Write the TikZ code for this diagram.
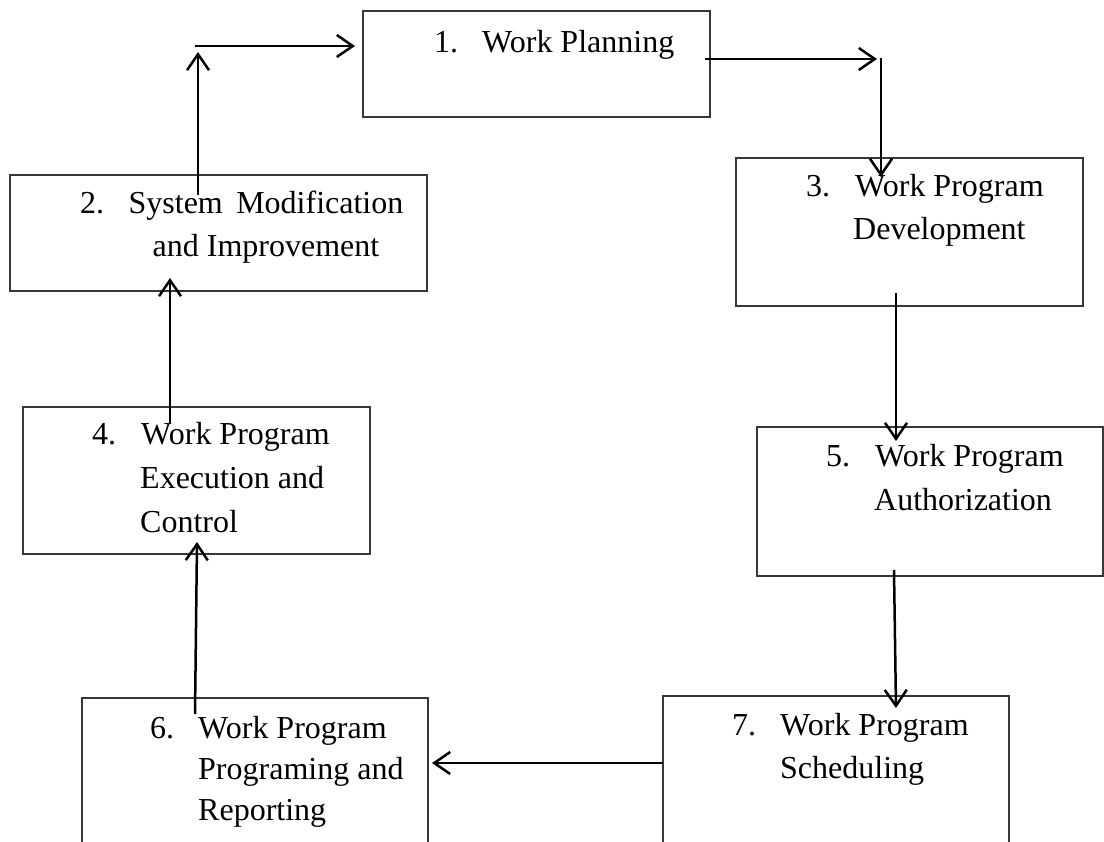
\documentclass[tikz,border=0pt]{standalone}
\usepackage{fontspec}
\setmainfont{Liberation Serif}
\usetikzlibrary{arrows.meta}

\begin{document}
\begin{tikzpicture}[x=1pt, y=-1pt,
  box/.style={draw=black!78, line width=1.3pt, rectangle, inner sep=0pt},
  lbl/.style={inner sep=0pt, anchor=base west, font=\fontsize{32}{43}\selectfont},
  clbl/.style={lbl, anchor=base},
  arr/.style={line width=2.5pt, -{Straight Barb[length=16pt, width=22pt, line width=2.5pt]}}
]
\useasboundingbox (0,0) rectangle (1104,842);
\clip (0,0) rectangle (1104,842);
\fill[white] (0,0) rectangle (1104,842);

% ---- boxes ----
\node[box, minimum width=347pt, minimum height=106pt] (b1) at (536.5,64) {};
\node[box, minimum width=417pt, minimum height=116pt] (b2) at (218.5,233) {};
\node[box, minimum width=347pt, minimum height=148pt] (b3) at (909.5,232) {};
\node[box, minimum width=347pt, minimum height=147pt] (b4) at (196.5,480.5) {};
\node[box, minimum width=346pt, minimum height=149pt] (b5) at (930,501.5) {};
\node[box, minimum width=346pt, minimum height=170pt] (b6) at (255,783) {};
\node[box, minimum width=346pt, minimum height=170pt] (b7) at (836,781) {};

% ---- labels ----
\node[lbl] (n1) at (434,53) {1.};
\node[lbl] (t1) at (482,53) {Work Planning};

\node[lbl] (n2) at (80,214) {2.};
\node[clbl] (t2a) at (266,214) {System\hspace{0.42em}Modification};
\node[clbl] (t2b) at (266,257) {and Improvement};

\node[lbl] (n3) at (806,197) {3.};
\node[lbl] (t3a) at (855,197) {Work Program};
\node[lbl] (t3b) at (853,240) {Development};

\node[lbl] (n4) at (92,445) {4.};
\node[lbl] (t4a) at (141,445) {Work Program};
\node[lbl] (t4b) at (140,489) {Execution and};
\node[lbl] (t4c) at (140,532) {Control};

\node[lbl] (n5) at (826,467) {5.};
\node[lbl] (t5a) at (875,467) {Work Program};
\node[lbl] (t5b) at (874,511) {Authorization};

\node[lbl] (n6) at (150,738) {6.};
\node[lbl] (t6a) at (198,738) {Work Program};
\node[lbl] (t6b) at (198,779) {Programing and};
\node[lbl] (t6c) at (198,820) {Reporting};

\node[lbl] (n7) at (732,735) {7.};
\node[lbl] (t7a) at (780,735) {Work Program};
\node[lbl] (t7b) at (780,778) {Scheduling};

% ---- connector end points ----
\coordinate (p2s) at (198,195);
\coordinate (p2e) at (198,52);
\coordinate (p1s) at (195,46);
\coordinate (p1e) at (355,46);
\coordinate (q1s) at (705,59);
\coordinate (q1c) at (881,59);
\coordinate (q3e) at (881,177);
\coordinate (p3s) at (896,293);
\coordinate (p5e) at (896,441);
\coordinate (p5s) at (894,570);
\coordinate (p7e) at (896,708);
\coordinate (p7s) at (663,763);
\coordinate (p6e) at (432,763);
\coordinate (p6s) at (195,714);
\coordinate (p4e) at (197,542);
\coordinate (p4s) at (170,424);
\coordinate (p2b) at (170,278);

% ---- connectors ----
\draw[arr] (p2s) -- (p2e);
\draw[arr] (p1s) -- (p1e);
\draw[arr] (q1s) -- ([xshift=-4pt]q1c);
\draw[arr] ([yshift=1pt]q1c) -- (q3e);
\draw[arr] (p3s) -- (p5e);
\draw[arr] (p5s) -- (p7e);
\draw[arr] (p7s) -- (p6e);
\draw[arr] (p6s) -- (p4e);
\draw[arr] (p4s) -- (p2b);
\end{tikzpicture}
\end{document}
